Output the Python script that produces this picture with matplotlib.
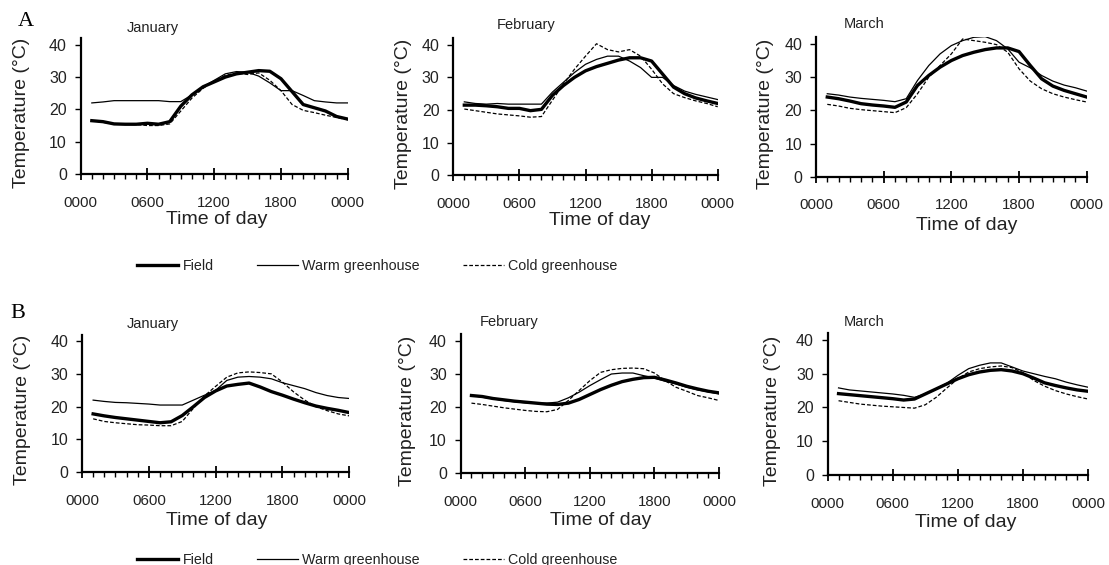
import matplotlib.pyplot as plt
from matplotlib.ticker import MultipleLocator

plt.rcParams['font.family'] = ['Liberation Sans', 'DejaVu Sans']

# hourly readings, hour 1 .. hour 24
hours = list(range(1, 25))
months = ['January', 'February', 'March']
series_names = ['Field', 'Warm greenhouse', 'Cold greenhouse']
xtick_pos = [0, 6, 12, 18, 24]
xtick_labels = ['0000', '0600', '1200', '1800', '0000']

# panel A
a_jan_field = [16.5, 16.2, 15.5, 15.4, 15.4, 15.7, 15.4, 16.2, 21.0, 24.5, 27.0, 28.5,
               30.0, 31.0, 31.5, 32.0, 31.8, 29.5, 25.5, 21.5, 20.5, 19.5, 17.8, 17.0]
a_jan_warm = [22.0, 22.3, 22.7, 22.7, 22.7, 22.7, 22.7, 22.4, 22.4, 24.5, 27.0, 29.0,
              31.0, 31.7, 31.5, 30.3, 28.2, 25.8, 25.8, 24.3, 22.7, 22.3, 22.0, 22.0]
a_jan_cold = [16.5, 16.0, 15.5, 15.4, 15.3, 15.0, 15.0, 15.5, 19.5, 23.5, 26.5, 28.8,
              30.5, 31.3, 30.8, 31.3, 29.0, 25.8, 21.5, 19.7, 19.0, 18.2, 17.5, 16.8]

a_feb_field = [21.5, 21.5, 21.3, 21.0, 20.5, 20.5, 19.8, 20.2, 24.5, 27.5, 30.0, 32.0,
               33.3, 34.3, 35.3, 36.0, 36.0, 35.0, 31.0, 27.0, 25.0, 23.7, 22.8, 22.0]
a_feb_warm = [22.5, 22.0, 21.8, 22.0, 21.8, 21.8, 21.8, 21.8, 25.5, 28.5, 31.5, 34.0,
              35.5, 36.5, 36.5, 35.0, 33.0, 30.0, 30.0, 27.5, 25.8, 24.8, 24.0, 23.2]
a_feb_cold = [20.3, 19.8, 19.3, 18.8, 18.5, 18.2, 17.8, 18.0, 23.0, 28.0, 32.5, 36.5,
              40.3, 38.5, 37.8, 38.5, 36.5, 32.5, 28.0, 25.0, 23.8, 22.8, 22.0, 21.0]

a_mar_field = [24.0, 23.5, 22.8, 22.0, 21.6, 21.3, 20.9, 22.5, 27.5, 30.5, 33.0, 35.0,
               36.5, 37.5, 38.3, 38.8, 38.8, 37.7, 33.5, 29.5, 27.3, 26.0, 25.0, 24.0]
a_mar_warm = [25.0, 24.6, 24.0, 23.6, 23.3, 23.0, 22.6, 23.5, 29.0, 33.5, 37.0, 39.5,
              41.0, 42.0, 42.2, 41.0, 38.5, 34.5, 32.8, 30.5, 28.8, 27.6, 26.8, 25.8]
a_mar_cold = [21.8, 21.3, 20.6, 20.2, 19.9, 19.6, 19.3, 20.8, 25.0, 30.0, 33.5, 37.0,
              41.5, 41.0, 40.5, 39.8, 37.5, 32.5, 28.8, 26.5, 25.0, 24.0, 23.2, 22.5]

# panel B
b_jan_field = [17.8, 17.2, 16.7, 16.3, 15.9, 15.5, 15.1, 15.4, 17.3, 20.0, 22.8, 24.8,
               26.3, 26.8, 27.2, 26.0, 24.6, 23.5, 22.3, 21.2, 20.2, 19.5, 18.9, 18.2]
b_jan_warm = [22.0, 21.6, 21.3, 21.2, 21.0, 20.8, 20.5, 20.5, 20.5, 22.0, 23.5, 25.0,
              28.0, 29.0, 29.2, 29.0, 28.5, 27.3, 26.4, 25.5, 24.3, 23.4, 22.8, 22.5]
b_jan_cold = [16.3, 15.5, 15.1, 14.8, 14.5, 14.4, 14.2, 14.2, 15.5, 19.5, 23.3, 26.2,
              29.0, 30.3, 30.6, 30.4, 30.0, 27.5, 24.5, 22.0, 20.0, 18.8, 17.8, 17.2]

b_feb_field = [23.5, 23.2, 22.6, 22.2, 21.8, 21.5, 21.2, 20.9, 20.8, 21.2, 22.3, 23.8,
               25.3, 26.6, 27.7, 28.4, 28.9, 29.0, 28.2, 27.3, 26.3, 25.5, 24.8, 24.3]
b_feb_warm = [23.5, 23.0, 22.5, 22.0, 21.6, 21.3, 21.2, 21.2, 21.5, 22.8, 24.5, 26.5,
              28.3, 30.0, 30.3, 30.3, 29.5, 28.8, 27.8, 27.0, 26.0, 25.2, 24.6, 24.0]
b_feb_cold = [21.2, 20.8, 20.3, 19.8, 19.4, 19.0, 18.7, 18.6, 19.3, 22.0, 25.0, 28.0,
              30.5, 31.3, 31.7, 31.8, 31.6, 30.3, 28.0, 26.0, 24.8, 23.5, 22.8, 22.0]

b_mar_field = [24.1, 23.8, 23.5, 23.2, 22.9, 22.6, 22.2, 22.5, 24.0, 25.5, 27.0, 28.5,
               29.7, 30.5, 31.0, 31.2, 30.8, 30.0, 28.7, 27.3, 26.5, 25.8, 25.2, 24.8]
b_mar_warm = [25.8, 25.2, 24.9, 24.6, 24.3, 24.0, 23.6, 23.0, 24.0, 25.5, 27.2, 29.5,
              31.5, 32.5, 33.2, 33.2, 32.0, 30.8, 30.0, 29.2, 28.5, 27.5, 26.7, 26.0]
b_mar_cold = [22.0, 21.5, 21.0, 20.7, 20.4, 20.2, 20.0, 19.8, 20.8, 23.0, 25.8, 28.5,
              30.5, 31.5, 32.0, 32.3, 31.8, 30.3, 28.0, 26.3, 25.0, 24.0, 23.2, 22.5]

panel_a = [(a_jan_field, a_jan_warm, a_jan_cold),
           (a_feb_field, a_feb_warm, a_feb_cold),
           (a_mar_field, a_mar_warm, a_mar_cold)]
panel_b = [(b_jan_field, b_jan_warm, b_jan_cold),
           (b_feb_field, b_feb_warm, b_feb_cold),
           (b_mar_field, b_mar_warm, b_mar_cold)]

W, H = 1109, 565
fig = plt.figure(figsize=(W / 100, H / 100), dpi=100)

# axes boxes in pixels: left, y of the zero line, width, height
boxes_a = [(80.7, 174, 267, 135.7), (453.3, 175.3, 264.4, 137.1), (816, 176.7, 270.7, 139.4)]
boxes_b = [(82, 472.3, 267.3, 137.8), (460.7, 473.3, 258.3, 139), (827.7, 475, 260.3, 141.8)]
titles_a = [(127, 27.7), (496.7, 25), (844, 24)]
titles_b = [(127, 324), (480, 322), (844, 321.7)]
# label placement: y label anchor (px left of axis), x label (axes fraction, px below axis)
ylab_a = [51, 41, 42]
ylab_b = [51, 45, 47]
xlab_a = [(0.51, 37), (0.555, 37), (0.558, 40)]
xlab_b = [(0.505, 40), (0.543, 39), (0.531, 39)]

styles = [dict(color='black', lw=2.4),
          dict(color='black', lw=0.9),
          dict(color='black', lw=0.9, ls=(0, (3, 1.6)))]

ink = '#222222'
handles = None
rows = [(boxes_a, titles_a, panel_a, ylab_a, xlab_a),
        (boxes_b, titles_b, panel_b, ylab_b, xlab_b)]
for boxes, titles, panel, ylabs, xlabs in rows:
    for (l, b, w, h), (tx, ty), month, data, yl, (xf, xl) in zip(boxes, titles, months, panel, ylabs, xlabs):
        ax = fig.add_axes([l / W, (H - b) / H, w / W, h / H])
        lines = []
        for vals, st, name in zip(data, styles, series_names):
            ln, = ax.plot(hours, vals, label=name, **st)
            lines.append(ln)
        handles = lines
        ax.set_xlim(0, 24)
        ax.set_ylim(0, 42)
        ax.set_xticks(xtick_pos)
        ax.set_xticklabels(xtick_labels)
        ax.xaxis.set_minor_locator(MultipleLocator(1))
        ax.set_yticks([0, 10, 20, 30, 40])
        for s in ['top', 'right']:
            ax.spines[s].set_visible(False)
        for s in ['left', 'bottom']:
            ax.spines[s].set_linewidth(1.6)
        ax.tick_params(axis='x', which='major', direction='inout', length=9, width=1.3,
                       pad=11, labelsize=10.8, labelcolor=ink)
        ax.tick_params(axis='x', which='minor', direction='out', length=3.5, width=1)
        ax.tick_params(axis='y', direction='out', length=4, width=1, pad=6,
                       labelsize=11.5, labelcolor=ink)
        ax.set_ylabel('Temperature (°C)', fontsize=14, color=ink)
        ax.yaxis.set_label_coords(-yl / w, 0.45)
        ax.set_xlabel('Time of day', fontsize=14, color=ink)
        ax.xaxis.set_label_coords(xf, -xl / h)
        fig.text(tx / W, 1 - ty / H, month, fontsize=10.5, color=ink, ha='left', va='center')

# legends under each row
for ly in [266, 560]:
    fig.legend(handles=handles, labels=series_names, loc='center left',
               bbox_to_anchor=(137 / W, 1 - ly / H), ncol=3, frameon=False,
               fontsize=10.3, handlelength=2.9, handletextpad=0.28, columnspacing=3.0,
               borderpad=0, borderaxespad=0, labelcolor=ink)

fig.text(18 / W, 1 - 21.7 / H, 'A', family='Liberation Serif', fontsize=16, ha='left', va='center')
fig.text(10 / W, 1 - 313 / H, 'B', family='Liberation Serif', fontsize=16, ha='left', va='center')

fig.savefig('out.png', dpi=100)
